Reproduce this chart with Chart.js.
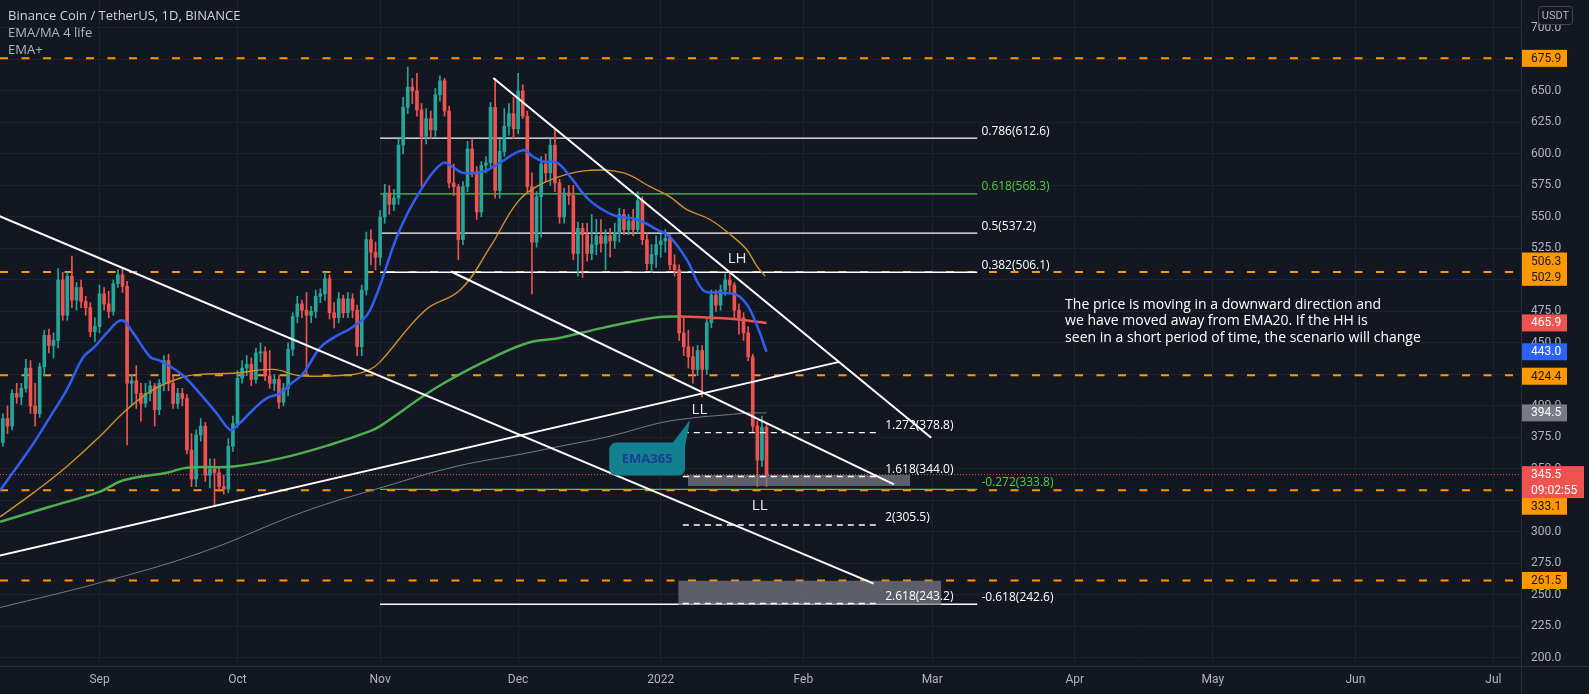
<!DOCTYPE html>
<html>
<head>
<meta charset="utf-8">
<title>Binance Coin / TetherUS, 1D</title>
<script src="https://cdn.jsdelivr.net/npm/chart.js@4.4.1/dist/chart.umd.min.js"></script>
<style>
  html, body { margin: 0; padding: 0; background: #131722; }
  #wrap { width: 1589px; height: 694px; position: relative; }
</style>
</head>
<body>
<div id="wrap"><canvas id="chart"></canvas></div>
<script>
// x values are calendar days, day 0 = 10 Aug 2021 (first candle is 11 Aug)
const firstCandleDay = 1;

const opens = [
  371, 390, 384, 410, 407, 414, 430, 400, 394, 431,
  456, 448, 452, 500, 472, 503, 484, 494, 483, 478,
  459, 463, 489, 481, 475, 497, 504, 495, 418, 420,
  410, 402, 410, 416, 397, 418, 436, 418, 402, 410,
  406, 365, 342, 377, 384, 345, 350, 347, 336, 334,
  368, 386, 422, 430, 433, 421, 442, 443, 424, 418,
  421, 403, 414, 445, 471, 481, 476, 472, 475, 487,
  489, 501, 474, 470, 485, 474, 485, 476, 447, 492,
  532, 522, 518, 550, 569, 560, 565, 607, 637, 653,
  650, 635, 614, 628, 619, 647, 658, 634, 577, 574,
  532, 574, 604, 586, 554, 591, 593, 637, 571, 602,
  622, 632, 620, 650, 630, 574, 530, 566, 592, 585,
  607, 577, 550, 569, 567, 521, 541, 536, 521, 528,
  535, 529, 535, 531, 537, 552, 540, 547, 540, 563,
  532, 513, 520, 528, 531, 533, 512, 508, 458, 447,
  439, 429, 444, 429, 466, 488, 480, 492, 500, 496,
  476, 470, 458, 439, 384, 357, 383
];
const highs = [
  394, 400, 413, 418, 418, 437, 436, 418, 434, 460,
  461, 458, 509, 506, 506, 519, 498, 500, 487, 482,
  470, 496, 494, 491, 500, 508, 509, 499, 425, 432,
  418, 418, 420, 418, 421, 440, 441, 424, 414, 414,
  409, 378, 381, 390, 387, 358, 358, 352, 345, 374,
  392, 428, 436, 440, 438, 446, 450, 447, 444, 425,
  424, 418, 450, 474, 487, 484, 490, 479, 492, 493,
  506, 504, 482, 490, 488, 490, 489, 480, 496, 538,
  540, 530, 555, 576, 575, 572, 612, 645, 669, 660,
  664, 640, 636, 634, 652, 662, 660, 638, 592, 576,
  578, 610, 612, 590, 594, 598, 641, 660, 612, 636,
  640, 645, 664, 655, 634, 585, 570, 598, 600, 612,
  620, 580, 573, 575, 575, 546, 545, 545, 552, 548,
  548, 540, 541, 545, 557, 556, 552, 556, 570, 566,
  537, 528, 535, 536, 540, 536, 520, 512, 470, 460,
  447, 448, 448, 470, 492, 492, 496, 505, 506, 498,
  481, 474, 463, 441, 388, 392, 386
];
const lows = [
  368, 378, 381, 402, 401, 411, 394, 384, 391, 424,
  442, 438, 446, 468, 468, 478, 476, 478, 472, 455,
  451, 458, 476, 470, 472, 494, 490, 369, 400, 398,
  388, 399, 404, 384, 393, 412, 412, 398, 398, 400,
  362, 336, 336, 372, 340, 335, 321, 332, 330, 331,
  364, 383, 418, 424, 416, 418, 435, 420, 414, 412,
  398, 400, 408, 440, 466, 470, 424, 466, 470, 482,
  484, 469, 462, 466, 470, 470, 470, 440, 440, 488,
  512, 508, 512, 545, 552, 555, 560, 600, 632, 640,
  630, 574, 608, 612, 614, 642, 630, 573, 567, 516,
  528, 570, 582, 548, 550, 585, 590, 565, 565, 598,
  615, 612, 616, 628, 570, 489, 526, 534, 578, 575,
  570, 545, 545, 560, 516, 503, 502, 515, 516, 520,
  522, 508, 518, 525, 530, 536, 536, 535, 537, 528,
  508, 506, 510, 518, 522, 508, 503, 452, 440, 430,
  418, 424, 407, 425, 462, 475, 476, 488, 490, 470,
  457, 452, 436, 379, 336, 352, 336
];
const closes = [
  390, 384, 410, 407, 414, 430, 400, 394, 431, 456,
  448, 452, 500, 472, 503, 484, 494, 483, 478, 459,
  463, 489, 481, 475, 497, 504, 495, 418, 420, 410,
  402, 410, 416, 397, 418, 436, 418, 402, 410, 406,
  365, 342, 377, 384, 345, 350, 347, 336, 334, 368,
  386, 422, 430, 433, 421, 442, 443, 424, 418, 421,
  403, 414, 445, 471, 481, 476, 472, 475, 487, 489,
  501, 474, 470, 485, 474, 485, 476, 447, 492, 532,
  522, 518, 550, 569, 560, 565, 607, 637, 653, 650,
  635, 614, 628, 619, 647, 658, 634, 577, 574, 532,
  574, 604, 586, 554, 591, 593, 637, 571, 602, 622,
  632, 620, 650, 630, 574, 530, 566, 592, 585, 607,
  577, 550, 569, 567, 521, 541, 536, 521, 528, 535,
  529, 535, 531, 537, 552, 540, 547, 540, 563, 532,
  513, 520, 528, 531, 533, 512, 508, 458, 447, 439,
  429, 444, 429, 466, 488, 480, 492, 500, 496, 476,
  470, 458, 439, 384, 357, 383, 345.5
];

const monthDays = [22, 52, 83, 113, 144, 175, 203, 234, 264, 295, 325];
const monthLabels = ["Sep", "Oct", "Nov", "Dec", "2022", "Feb", "Mar", "Apr", "May", "Jun", "Jul"];

// moving averages as [day, price]
const ema20 = [[0.4,333],[7.6,370],[11.2,391],[14.9,413],[18.5,439],[20.7,446],[23.6,458],[26.8,468],
  [29.3,458],[33,439],[35.1,436],[39.9,425],[43.8,410],[47.5,394],[50.4,381],[51.8,384],[55.4,397],
  [58.3,406],[61.2,410],[63.4,417],[66.3,426],[69.9,446],[72.8,454],[77.2,463],[80.8,476],[87.3,540],
  [93.2,579],[96.7,593],[98.2,591],[101,585],[105.4,586],[109,593],[114,603],[116.2,598],[118.4,594],
  [121.5,593],[124.3,582],[128.6,563],[134,551],[138.8,548],[143.2,540],[146,534],[149.7,516],
  [153.2,492],[156.9,490],[160.6,488],[163,479],[165,463],[167,443]];
const ema50 = [[0.4,312],[7.6,331],[14.9,352],[22.1,376],[27.9,397],[33.7,413],[40.2,423],[43.8,425],
  [51.1,426],[59.8,429],[65.6,424],[77.2,425],[80.8,429],[83,435],[92.8,476],[100.4,492],[106.9,526],
  [112.7,561],[117,574],[122.8,583],[128.6,587],[135.9,585],[141.7,574],[146,566],[149.6,556],
  [154.7,548],[159.8,534],[162.7,524],[164.9,511],[166.7,503]];
const ema200 = [[0.4,308],[11.2,320],[22.1,332],[27.2,341],[36.6,347],[41,351],[51.1,352],[62,359],
  [72.8,370],[80.8,380],[83,384],[95,414],[105,434],[115,450],[122,454],[129,460],[136.5,466],
  [143.8,470.6],[148,471],[155,470],[160,469],[167,465.9]];
const ema365 = [[0.4,240],[22.4,260],[44.4,284],[66.4,316],[84,336],[99.5,352],[114,362],[122.1,368],
  [133,376],[143.8,386.5],[151,390.5],[158.4,393],[162.8,394.3],[167,394.5]];

// drawings: horizontal levels, fib levels, trend lines, zones
const keyLevels = [675.9, 506.3, 424.4, 333.1, 261.5];
const fibStart = 83, fibEnd = 212.8, fibLabelDay = 213.7;
const fibLevels = [612.6, 568.3, 537.2, 506.1, 333.8, 242.6];
const fibLabels = ["0.786(612.6)", "0.618(568.3)", "0.5(537.2)", "0.382(506.1)", "-0.272(333.8)", "-0.618(242.6)"];
const extStart = 148.8, extEnd = 191, extLabelDay = 192.8;
const extLevels = [378.8, 344.0, 305.5, 243.2];
const extLabels = ["1.272(378.8)", "1.618(344.0)", "2(305.5)", "2.618(243.2)"];
const trendLines = [
  [[0, 551], [190.3, 259]],
  [[0, 281], [182.8, 435]],
  [[98.4, 506.7], [194.7, 337.8]],
  [[107.6, 660.3], [202.8, 374.8]]
];
const zones = [[149.9, 198.2, 345.2, 336.5], [147.8, 205, 261.3, 242]];
const lastPrice = 345.5;
const countdown = "09:02:55";
const axisTags = [675.9, 506.3, 502.9, 465.9, 443.0, 424.4, 394.5, 333.1, 261.5];

const swingLabels = [["LH", 160.6, 516.7], ["LL", 152.4, 396.8], ["LL", 165.5, 320.6]];
const callout = { text: "EMA365", x1: 132.8, x2: 149.3, top: 370.9, bottom: 344.7, tipX: 150.4, tipY: 389 };
const note = ["The price is moving in a downward direction and",
  "we have moved away from EMA20. If the HH is",
  "seen in a short period of time, the scenario will change"];
const noteDay = 231.9, notePrice = 480.2;

const titleLines = ["Binance Coin / TetherUS, 1D, BINANCE", "EMA/MA 4 life", "EMA+"];

// ---------------------------------------------------------------
const up = "#26a69a", down = "#ef5350", orange = "#ff9800", fibGreen = "#4cce3c";
const xMin = 0.37, xMax = 331.0;
const candleColors = closes.map((c, i) => c >= opens[i] ? up : down);

const toXY = arr => arr.map(p => ({ x: p[0], y: p[1] }));
const datasets = [];

keyLevels.forEach(v => datasets.push({
  type: "line", data: [{ x: xMin, y: v }, { x: xMax, y: v }],
  borderColor: orange, borderWidth: 2, borderDash: [8, 13.5], pointRadius: 0, order: 20
}));
datasets.push({
  type: "line", data: [{ x: xMin, y: lastPrice }, { x: xMax, y: lastPrice }],
  borderColor: "#ef5350", borderWidth: 1, borderDash: [1, 2], pointRadius: 0, order: 19
});
fibLevels.forEach((v, i) => datasets.push({
  type: "line", data: [{ x: fibStart, y: v }, { x: fibEnd, y: v }],
  borderColor: (i === 1 || i === 4) ? fibGreen : "#ffffff", borderWidth: 1.3, pointRadius: 0, order: 18
}));
zones.forEach(z => datasets.push({
  type: "line", data: [{ x: z[0], y: z[2] }, { x: z[1], y: z[2] }],
  fill: { value: z[3] }, backgroundColor: "rgba(120,123,134,0.72)",
  borderWidth: 0, pointRadius: 0, order: 6
}));
extLevels.forEach(v => datasets.push({
  type: "line", data: [{ x: extStart, y: v }, { x: extEnd, y: v }],
  borderColor: "#ffffff", borderWidth: 1.3, borderDash: [6, 5], pointRadius: 0, order: 5
}));

datasets.push({
  type: "bar", data: highs.map((h, i) => ({ x: firstCandleDay + i, y: [lows[i], h] })),
  backgroundColor: candleColors, barThickness: 1, grouped: false, order: 15
});
datasets.push({
  type: "bar", data: opens.map((o, i) => ({ x: firstCandleDay + i, y: [o, closes[i]] })),
  backgroundColor: candleColors, barThickness: 3, grouped: false, minBarLength: 1, order: 14
});

datasets.push({ type: "line", data: toXY(ema365), borderColor: "#787b86", borderWidth: 1, pointRadius: 0, tension: 0.4, order: 12 });
datasets.push({
  type: "line", data: toXY(ema200), borderColor: "#4caf50", borderWidth: 2.5, pointRadius: 0, tension: 0.4, order: 11,
  segment: { borderColor: c => c.p0.parsed.x >= 148 ? "#ef5350" : undefined }
});
datasets.push({ type: "line", data: toXY(ema50), borderColor: "#d09128", borderWidth: 1.4, pointRadius: 0, tension: 0.4, order: 10 });
datasets.push({ type: "line", data: toXY(ema20), borderColor: "#2f5ff0", borderWidth: 2.5, pointRadius: 0, tension: 0.4, order: 9 });

trendLines.forEach(t => datasets.push({
  type: "line", data: toXY(t), borderColor: "#ffffff", borderWidth: 2, pointRadius: 0, order: 2
}));

const overlay = {
  id: "overlay",
  afterDatasetsDraw(chart) {
    const { ctx, scales: { x, y } } = chart;
    const px = d => x.getPixelForValue(d);
    const py = v => y.getPixelForValue(v);
    ctx.save();
    ctx.textBaseline = "middle";
    ctx.textAlign = "left";
    ctx.font = '12px "Open Sans"';
    fibLevels.forEach((v, i) => {
      ctx.fillStyle = (i === 1 || i === 4) ? fibGreen : "#ffffff";
      ctx.fillText(fibLabels[i], px(fibLabelDay), py(v) - 7);
    });
    ctx.fillStyle = "#ffffff";
    extLevels.forEach((v, i) => ctx.fillText(extLabels[i], px(extLabelDay), py(v) - 7));

    // EMA365 callout
    const bx1 = px(callout.x1), bx2 = px(callout.x2), by1 = py(callout.top), by2 = py(callout.bottom);
    ctx.fillStyle = "#13808f";
    ctx.beginPath();
    ctx.roundRect(bx1, by1, bx2 - bx1, by2 - by1, 7);
    ctx.fill();
    ctx.beginPath();
    ctx.moveTo(bx2 - 13, by1 + 1);
    ctx.lineTo(px(callout.tipX), py(callout.tipY));
    ctx.lineTo(bx2 - 1, by1 + 9);
    ctx.closePath();
    ctx.fill();
    ctx.fillStyle = "#1d3d93";
    ctx.font = 'bold 13px "Open Sans"';
    ctx.textAlign = "center";
    ctx.fillText(callout.text, (bx1 + bx2) / 2, (by1 + by2) / 2);

    ctx.font = '15px "Open Sans"';
    ctx.fillStyle = "#e6e8ee";
    swingLabels.forEach(s => ctx.fillText(s[0], px(s[1]), py(s[2])));

    ctx.textAlign = "left";
    ctx.font = '14px "Open Sans"';
    ctx.fillStyle = "#ffffff";
    note.forEach((line, i) => ctx.fillText(line, px(noteDay), py(notePrice) + i * 16.6));
    ctx.restore();
  },
  afterDraw(chart) {
    const { ctx, scales: { y } } = chart;
    const py = v => y.getPixelForValue(v);
    ctx.save();
    // axis separators across the full canvas
    ctx.strokeStyle = "#2a2e39";
    ctx.lineWidth = 1;
    ctx.beginPath();
    ctx.moveTo(0, 666.5); ctx.lineTo(1589, 666.5);
    ctx.moveTo(1521.5, 0); ctx.lineTo(1521.5, 694);
    ctx.stroke();

    ctx.textBaseline = "middle";
    ctx.textAlign = "left";
    ctx.font = '12px Roboto';
    const tagStyle = [
      { bg: orange, fg: "#131722", dy: 0 },
      { bg: orange, fg: "#131722", dy: -11 },
      { bg: orange, fg: "#131722", dy: 1 },
      { bg: "#ef5350", fg: "#ffffff", dy: 0 },
      { bg: "#2962ff", fg: "#ffffff", dy: 0 },
      { bg: orange, fg: "#131722", dy: 1 },
      { bg: "#787b86", fg: "#ffffff", dy: 0 },
      { bg: orange, fg: "#131722", dy: 16 },
      { bg: orange, fg: "#131722", dy: 0 }
    ];
    axisTags.forEach((v, i) => {
      const s = tagStyle[i];
      const cy = py(v) + s.dy;
      ctx.fillStyle = s.bg;
      ctx.fillRect(1522, cy - 8.5, 45, 17);
      ctx.fillStyle = s.fg;
      ctx.fillText(v.toFixed(1), 1531, cy + 0.5);
    });
    // last price with countdown
    const ly = py(lastPrice);
    ctx.fillStyle = "#ef5350";
    ctx.fillRect(1522, ly - 8.5, 62, 32);
    ctx.fillStyle = "#ffffff";
    ctx.fillText(lastPrice.toFixed(1), 1531, ly + 0.5);
    ctx.fillText(countdown, 1531, ly + 16);

    // currency box
    ctx.fillStyle = "#131722";
    ctx.strokeStyle = "#434651";
    ctx.beginPath();
    ctx.roundRect(1538.5, 6.5, 34, 18, 3);
    ctx.fill();
    ctx.stroke();
    ctx.fillStyle = "#b2b5be";
    ctx.font = '11px Roboto';
    ctx.textAlign = "center";
    ctx.fillText("USDT", 1555.5, 16);

    // title block
    ctx.textAlign = "left";
    ctx.font = '13px "Open Sans"';
    titleLines.forEach((t, i) => {
      ctx.fillStyle = i === 0 ? "#d1d4dc" : "#b2b5be";
      ctx.fillText(t, 8, 16 + i * 17);
    });
    ctx.restore();
  }
};

new Chart(document.getElementById("chart"), {
  type: "bar",
  data: { datasets: datasets },
  options: {
    responsive: true,
    maintainAspectRatio: false,
    animation: false,
    events: [],
    layout: { padding: 0 },
    plugins: { legend: { display: false }, tooltip: { enabled: false } },
    scales: {
      x: {
        type: "linear",
        min: xMin,
        max: xMax,
        offset: false,
        grid: { color: "#1e222d", drawTicks: false, offset: false },
        border: { color: "#2a2e39" },
        afterBuildTicks: scale => { scale.ticks = monthDays.map(d => ({ value: d })); },
        afterFit: scale => { scale.height = 28; scale.paddingLeft = 0; scale.paddingRight = 0; },
        ticks: {
          autoSkip: false, maxRotation: 0, padding: 7,
          color: "#b2b5be", font: { family: "Roboto", size: 12 },
          callback: (value, index) => monthLabels[index]
        }
      },
      y: {
        position: "right",
        min: 193.6,
        max: 722.2,
        grid: { color: "#1e222d", drawTicks: false },
        border: { color: "#2a2e39" },
        afterFit: scale => { scale.width = 68; scale.paddingTop = 0; scale.paddingBottom = 0; },
        ticks: {
          stepSize: 25, includeBounds: false, padding: 10,
          color: "#b2b5be", font: { family: "Roboto", size: 12 },
          callback: v => v.toFixed(1)
        }
      }
    }
  },
  plugins: [overlay]
});
</script>
</body>
</html>
